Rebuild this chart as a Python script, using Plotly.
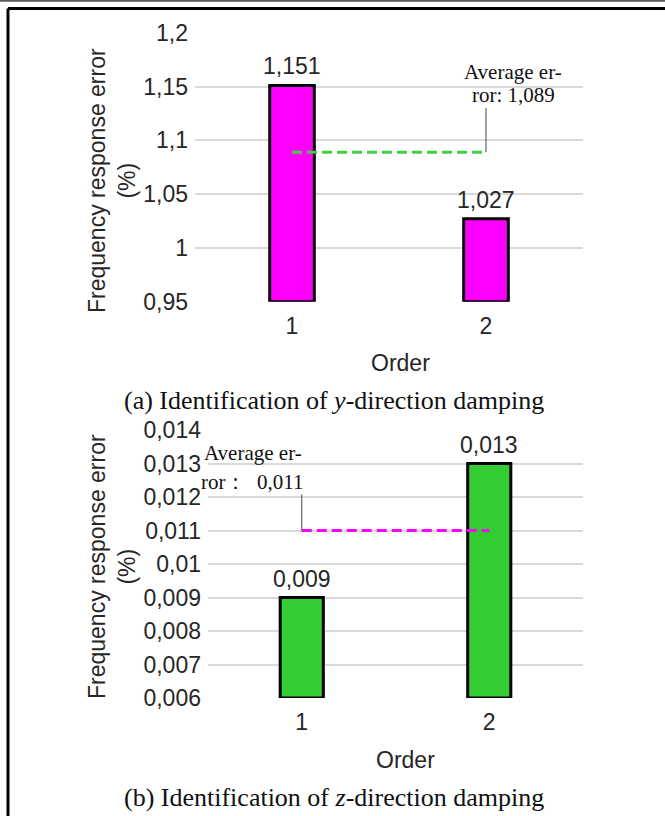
import plotly.graph_objects as go

# ---------------- data ----------------
orders = ["1", "2"]

y_err_values = [1.151, 1.027]
y_err_labels = ["1,151", "1,027"]
y_avg = 1.089
y_avg_text = ["Average er-", "ror: 1,089"]
y_tickvals = [0.95, 1.0, 1.05, 1.1, 1.15, 1.2]
y_ticktext = ["0,95", "1", "1,05", "1,1", "1,15", "1,2"]
y_base = 0.95

z_err_values = [0.009, 0.013]
z_err_labels = ["0,009", "0,013"]
z_avg = 0.011
z_avg_text = ["Average er-", "ror：  0,011"]
z_tickvals = [0.006, 0.007, 0.008, 0.009, 0.010, 0.011, 0.012, 0.013, 0.014]
z_ticktext = ["0,006", "0,007", "0,008", "0,009", "0,01", "0,011", "0,012", "0,013", "0,014"]
z_base = 0.006

captions = ["(a) Identification of <i>y</i>-direction damping",
            "(b) Identification of <i>z</i>-direction damping"]
x_title = "Order"
y_title = "Frequency response error<br>(%)"

# ---------------- geometry helpers ----------------
W, H = 665, 816
def px(x):
    return x / W
def py(y):
    return 1 - y / H

SANS = "Liberation Sans, Arial, sans-serif"
SERIF = "Liberation Serif, Times New Roman, serif"
TXT = "#262626"
MAGENTA = "#ff00ff"
GREEN = "#33cc33"
idx = list(range(len(orders)))  # category positions on the axis

fig = go.Figure()

# ---- chart (a) ----
fig.add_trace(go.Bar(
    x=orders, y=[v - y_base for v in y_err_values], base=y_base,
    width=0.23, marker=dict(color=MAGENTA, line=dict(color="black", width=3)),
    xaxis="x", yaxis="y", showlegend=False, hoverinfo="skip"))
fig.add_trace(go.Scatter(
    x=orders, y=[y_avg, y_avg], mode="lines",
    line=dict(color="#44cc44", width=3, dash="10px,5px"),
    xaxis="x", yaxis="y", showlegend=False, hoverinfo="skip"))

# ---- chart (b) ----
fig.add_trace(go.Bar(
    x=orders, y=[v - z_base for v in z_err_values], base=z_base,
    width=0.23, marker=dict(color=GREEN, line=dict(color="black", width=3)),
    xaxis="x2", yaxis="y2", showlegend=False, hoverinfo="skip"))
fig.add_trace(go.Scatter(
    x=orders, y=[z_avg, z_avg], mode="lines",
    line=dict(color=MAGENTA, width=3, dash="10px,5px"),
    xaxis="x2", yaxis="y2", showlegend=False, hoverinfo="skip"))

annotations = []
# value labels
for xa, ya, vals, labs in [("x", "y", y_err_values, y_err_labels),
                           ("x2", "y2", z_err_values, z_err_labels)]:
    for i, v, t in zip(idx, vals, labs):
        annotations.append(dict(x=i, y=v, xref=xa, yref=ya, text=t, showarrow=False,
                                yanchor="bottom", yshift=4,
                                font=dict(family=SANS, size=23, color=TXT)))

# average annotations (text)
for (cx, cy), t in zip([(513, 72), (513, 95)], y_avg_text):
    annotations.append(dict(x=px(cx), y=py(cy), xref="paper", yref="paper", text=t,
                            showarrow=False, xanchor="center", yanchor="middle",
                            font=dict(family=SERIF, size=21, color="#111")))
for (cx, cy), t in zip([(253, 453), (252, 482)], z_avg_text):
    annotations.append(dict(x=px(cx), y=py(cy), xref="paper", yref="paper", text=t,
                            showarrow=False, xanchor="center", yanchor="middle",
                            font=dict(family=SERIF, size=21, color="#111")))

# axis titles
for cy in (181, 567):
    annotations.append(dict(x=px(112), y=py(cy), xref="paper", yref="paper", text=y_title,
                            showarrow=False, textangle=-90, xanchor="center", yanchor="middle",
                            font=dict(family=SANS, size=23, color=TXT)))
for cx, cy in ((400, 363), (405, 760)):
    annotations.append(dict(x=px(cx), y=py(cy), xref="paper", yref="paper", text=x_title,
                            showarrow=False, xanchor="center", yanchor="middle",
                            font=dict(family=SANS, size=23, color=TXT)))
# captions
for cy, cap in zip((400, 797), captions):
    annotations.append(dict(x=px(334), y=py(cy), xref="paper", yref="paper", text=cap,
                            showarrow=False, xanchor="center", yanchor="middle",
                            font=dict(family=SERIF, size=26, color="#111")))

shapes = [
    # leader lines
    dict(type="line", xref="x", yref="y", x0=idx[1], x1=idx[1],
         ysizemode="pixel", yanchor=y_avg, y0=0, y1=44,
         line=dict(color="#444", width=1)),
    dict(type="line", xref="x2", yref="y2", x0=idx[0], x1=idx[0],
         ysizemode="pixel", yanchor=z_avg, y0=0, y1=36,
         line=dict(color="#444", width=1)),
    # page frame
    dict(type="line", xref="paper", yref="paper", x0=0, x1=1, y0=py(0.8), y1=py(0.8),
         line=dict(color="#5a5a5a", width=2)),
    dict(type="line", xref="paper", yref="paper", x0=px(8), x1=1, y0=py(8.5), y1=py(8.5),
         line=dict(color="black", width=3)),
    dict(type="line", xref="paper", yref="paper", x0=px(8), x1=px(8), y0=py(8.5), y1=0,
         line=dict(color="black", width=3)),
]

xcommon = dict(type="category", range=[-0.5, len(orders) - 0.5], autorange=False,
               automargin=False,
               showgrid=False, zeroline=False, showline=False, ticks="",
               ticklabelstandoff=8, tickfont=dict(family=SANS, size=23, color=TXT),
               fixedrange=True)
ycommon = dict(automargin=False,
               showgrid=True, gridcolor="#d9d9d9", gridwidth=1.5, zeroline=False, showline=False,
               ticks="", ticklabelstandoff=6, tickfont=dict(family=SANS, size=23, color=TXT),
               fixedrange=True)

fig.update_layout(
    width=W, height=H, margin=dict(l=0, r=0, t=0, b=0, pad=0, autoexpand=False),
    paper_bgcolor="white", plot_bgcolor="white",
    xaxis=dict(domain=[px(195), px(583)], anchor="y", **xcommon),
    yaxis=dict(domain=[py(301.7), py(32.7)], anchor="x", range=[0.95, 1.2],
               tickvals=y_tickvals, ticktext=y_ticktext, **ycommon),
    xaxis2=dict(domain=[px(208), px(583)], anchor="y2", **xcommon),
    yaxis2=dict(domain=[py(698), py(430)], anchor="x2", range=[0.006, 0.014],
                tickvals=z_tickvals, ticktext=z_ticktext, **ycommon),
    annotations=annotations, shapes=shapes, showlegend=False,
)

fig.write_html("out.html")
